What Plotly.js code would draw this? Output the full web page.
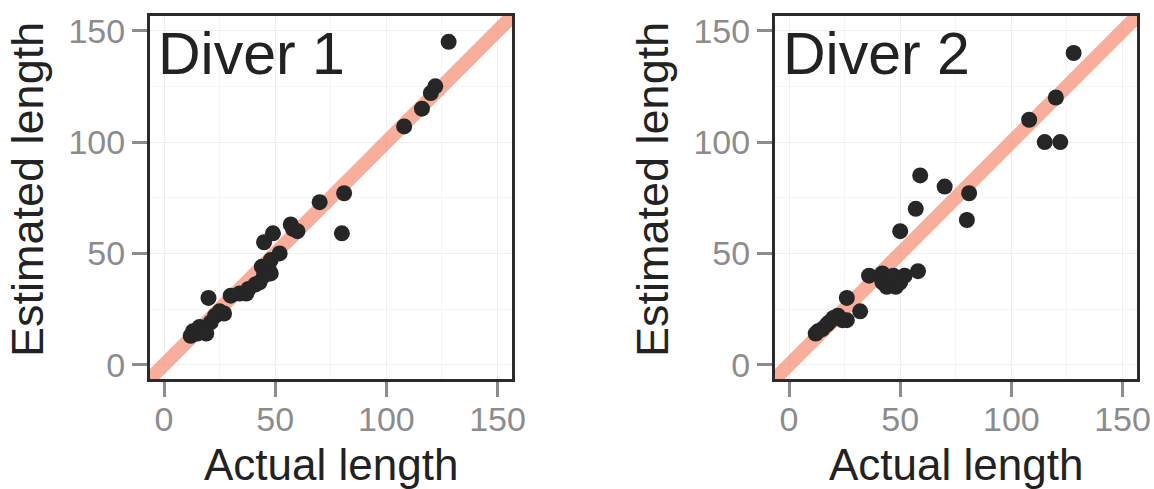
<!DOCTYPE html>
<html>
<head>
<meta charset="utf-8">
<script src="https://cdn.plot.ly/plotly-3.0.1.min.js"></script>
<style>html,body{margin:0;padding:0;background:#fff;}#chart{width:1154px;height:489px;}</style>
</head>
<body>
<div id="chart"></div>
<script>
// ---- data ----
const panelNames = ["Diver 1", "Diver 2"];
const diver1Actual    = [12, 13, 15, 16, 18, 19, 20, 21, 23, 25, 27, 30, 34, 37, 38, 41, 43, 44, 45, 45, 47, 48, 48, 49, 52, 57, 58, 60, 70, 80, 81, 108, 116, 120, 122, 128];
const diver1Estimated = [13, 15, 14, 17, 16, 14, 30, 19, 22, 24, 23, 31, 32, 32, 34, 36, 37, 44, 55, 40, 43, 41, 47, 59, 50, 63, 61, 60, 73, 59, 77, 107, 115, 122, 125, 145];
const diver2Actual    = [12, 13, 15, 17, 18, 20, 22, 24, 26, 26, 32, 36, 42, 42, 44, 45, 47, 48, 50, 52, 58, 50, 57, 59, 70, 80, 81, 108, 115, 120, 122, 128];
const diver2Estimated = [14, 15, 16, 18, 19, 21, 22, 20, 20, 30, 24, 40, 41, 37, 35, 36, 40, 35, 37, 40, 42, 60, 70, 85, 80, 65, 77, 110, 100, 120, 100, 140];
const identityLine = [-20, 180];
const tickValues = [0, 50, 100, 150];
const tickLabels = ["0", "50", "100", "150"];
const xTitle = "Actual length";
const yTitle = "Estimated length";

// ---- styling ----
const W = 1154, H = 489;
const FONT = "Liberation Sans, Arial, sans-serif";
const px = v => v / W;
const py = v => 1 - v / H;

const lineStyle = {color: "rgba(245,130,100,0.65)", width: 14};
const markerStyle = {color: "#262626", size: 16};

const traces = [];
const series = [[diver1Actual, diver1Estimated], [diver2Actual, diver2Estimated]];
series.forEach((s, i) => {
  const xa = i === 0 ? "x" : "x2";
  const ya = i === 0 ? "y" : "y2";
  traces.push({x: identityLine, y: identityLine, xaxis: xa, yaxis: ya, mode: "lines",
    line: lineStyle, hoverinfo: "skip", showlegend: false});
  traces.push({x: s[0], y: s[1], xaxis: xa, yaxis: ya, mode: "markers",
    marker: markerStyle, showlegend: false, cliponaxis: false});
});

function axis(domain, range, anchor, isX) {
  return {
    domain: domain, range: range, anchor: anchor,
    tickmode: "array", tickvals: tickValues, ticktext: tickLabels,
    ticks: "outside", ticklen: 15, tickwidth: 3, tickcolor: "#8c8c8c",
    ticklabelstandoff: isX ? -7 : 0,
    tickfont: {family: FONT, size: 34, color: "#8c8c8c"},
    showline: true, mirror: true, linecolor: "#2b2b2b", linewidth: 3,
    showgrid: true, gridcolor: "#efefef", gridwidth: 1,
    minor: {showgrid: true, dtick: 25, tick0: 25, gridcolor: "#f5f5f5", gridwidth: 1},
    zeroline: false, fixedrange: true
  };
}

const yDom = [1 - 379 / H, 1 - 16 / H];
const xRange = [-6.3, 156.5], yRange = [-6.4, 156.6];

const layout = {
  width: W, height: H, autosize: false,
  margin: {l: 0, r: 0, t: 0, b: 0},
  paper_bgcolor: "#ffffff", plot_bgcolor: "#ffffff",
  font: {family: FONT},
  xaxis: axis([150 / W, 512 / W], xRange, "y", true),
  yaxis: axis(yDom, yRange, "x", false),
  xaxis2: axis([775 / W, 1137 / W], xRange, "y2", true),
  yaxis2: axis(yDom, yRange, "x2", false),
  annotations: []
};

const offsets = [0, 625];
offsets.forEach((o, i) => {
  layout.annotations.push({text: panelNames[i], xref: "paper", yref: "paper",
    x: px(156 + o), y: py(54), xanchor: "left", yanchor: "middle", showarrow: false,
    font: {family: FONT, size: 59, color: "#222222"}});
  layout.annotations.push({text: xTitle, xref: "paper", yref: "paper",
    x: px(331 + o), y: py(464), xanchor: "center", yanchor: "middle", showarrow: false,
    font: {family: FONT, size: 44, color: "#222222"}});
  layout.annotations.push({text: yTitle, xref: "paper", yref: "paper", textangle: -90,
    x: px(27 + o), y: py(190), xanchor: "center", yanchor: "middle", showarrow: false,
    font: {family: FONT, size: 45, color: "#222222"}});
});

Plotly.newPlot("chart", traces, layout, {staticPlot: true, displayModeBar: false});
</script>
</body>
</html>
